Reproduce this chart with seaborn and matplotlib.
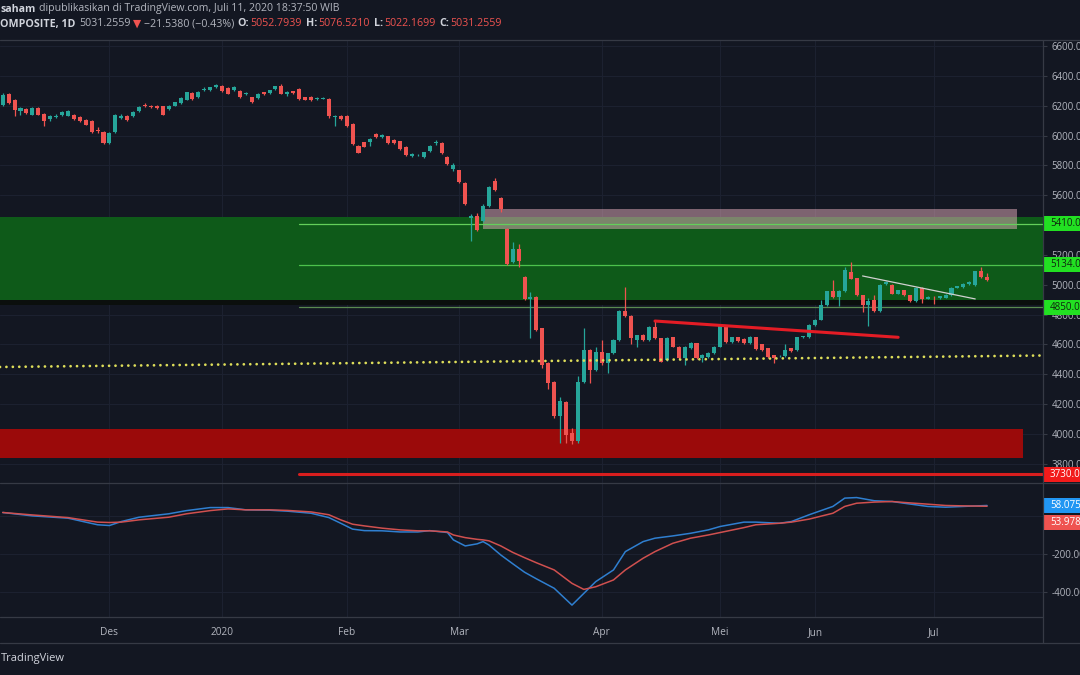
import numpy as np
import pandas as pd
import seaborn as sns
import matplotlib.pyplot as plt
import matplotlib.transforms as mtransforms
from matplotlib.lines import Line2D
from matplotlib.patches import Rectangle
from matplotlib.ticker import FuncFormatter

# ---- data (daily candles, index 0 = first visible bar) ----
opens = [6207, 6278, 6240, 6162, 6180, 6140, 6184, 6144, 6111, 6125,
         6140, 6134, 6140, 6124, 6107, 6100, 6040, 6022, 5947, 6024,
         6116, 6129, 6129, 6162, 6204, 6198, 6196, 6196, 6178, 6200,
         6218, 6240, 6284, 6256, 6302, 6302, 6324, 6333, 6318, 6302,
         6300, 6278, 6256, 6251, 6291, 6284, 6311, 6329, 6278, 6296,
         6313, 6256, 6256, 6245, 6248, 6244, 6125, 6131, 6133, 6080,
         5929, 5955, 5955, 6011, 5989, 5996, 5973, 5962, 5924, 5866,
         5867, 5858, 5896, 5951, 5947, 5855, 5778, 5767, 5684, 5445,
         5462, 5429, 5529, 5696, 5584, 5373, 5151, 5240, 5051, 4907,
         4918, 4707, 4473, 4347, 4118, 4213, 4007, 3951, 4351, 4562,
         4429, 4551, 4473, 4540, 4629, 4822, 4791, 4629, 4662, 4629,
         4718, 4640, 4495, 4647, 4584, 4507, 4578, 4607, 4507, 4515,
         4540, 4584, 4729, 4618, 4647, 4636, 4607, 4647, 4602, 4573,
         4529, 4520, 4524, 4573, 4562, 4647, 4651, 4729, 4767, 4862,
         4956, 4918, 4956, 5084, 5044, 4929, 4862, 4896, 4824, 5005,
         5000, 4940, 4962, 4929, 4889, 4978, 4907, 4918, 4911, 4913,
         4929, 4978, 4984, 5005, 4996, 5091, 5052.79]
highs = [6282, 6285, 6245, 6192, 6186, 6190, 6190, 6150, 6140, 6142,
         6162, 6168, 6145, 6128, 6112, 6105, 6055, 6030, 6022, 6145,
         6145, 6135, 6165, 6195, 6215, 6205, 6203, 6200, 6205, 6226,
         6255, 6295, 6290, 6298, 6325, 6328, 6345, 6340, 6322, 6330,
         6305, 6290, 6260, 6285, 6295, 6306, 6333, 6345, 6296, 6300,
         6318, 6260, 6262, 6256, 6258, 6250, 6140, 6140, 6140, 6085,
         5935, 5960, 5985, 6015, 6008, 6000, 5980, 5966, 5930, 5880,
         5875, 5892, 5936, 5970, 5955, 5860, 5818, 5772, 5690, 5473,
         5480, 5540, 5665, 5718, 5590, 5380, 5285, 5273, 5060, 4951,
         4925, 4712, 4480, 4352, 4251, 4220, 4040, 4390, 4710, 4570,
         4585, 4630, 4545, 4635, 4830, 4984, 4796, 4665, 4668, 4722,
         4767, 4645, 4648, 4650, 4590, 4590, 4615, 4612, 4533, 4548,
         4588, 4733, 4733, 4650, 4652, 4640, 4655, 4650, 4606, 4577,
         4532, 4530, 4600, 4578, 4651, 4660, 4735, 4772, 4896, 4960,
         5029, 4962, 5120, 5151, 5048, 4933, 4909, 4929, 5004, 5022,
         5005, 4966, 4966, 4933, 4982, 4982, 4922, 4922, 4928, 4937,
         4982, 4995, 5011, 5022, 5095, 5118, 5076.52]
lows = [6200, 6210, 6129, 6140, 6145, 6135, 6135, 6062, 6100, 6115,
        6130, 6128, 6105, 6090, 6068, 6018, 6020, 5945, 5940, 6018,
        6110, 6098, 6125, 6158, 6190, 6185, 6180, 6135, 6170, 6195,
        6213, 6235, 6240, 6250, 6296, 6298, 6320, 6290, 6275, 6298,
        6252, 6270, 6215, 6245, 6272, 6280, 6305, 6275, 6265, 6278,
        6240, 6235, 6230, 6240, 6244, 6120, 6062, 6105, 6058, 5935,
        5880, 5920, 5933, 5985, 5985, 5945, 5940, 5900, 5860, 5855,
        5860, 5852, 5890, 5935, 5875, 5800, 5762, 5685, 5535, 5296,
        5360, 5420, 5520, 5630, 5490, 5135, 5145, 5118, 4900, 4640,
        4690, 4440, 4300, 4110, 3940, 3940, 3935, 3940, 4340, 4340,
        4420, 4465, 4407, 4535, 4625, 4785, 4600, 4580, 4620, 4625,
        4635, 4480, 4490, 4580, 4500, 4460, 4570, 4500, 4480, 4510,
        4535, 4580, 4612, 4610, 4615, 4600, 4600, 4560, 4555, 4512,
        4473, 4515, 4518, 4550, 4555, 4640, 4645, 4725, 4762, 4855,
        4912, 4860, 4950, 5036, 4925, 4818, 4724, 4820, 4820, 5000,
        4935, 4936, 4925, 4885, 4885, 4880, 4903, 4870, 4907, 4910,
        4925, 4975, 4980, 5000, 4992, 5045, 5022.17]
closes = [6273, 6218, 6169, 6184, 6151, 6184, 6140, 6096, 6133, 6134,
          6156, 6162, 6111, 6096, 6073, 6024, 6030, 5951, 6018, 6140,
          6133, 6107, 6158, 6191, 6196, 6190, 6187, 6140, 6200, 6222,
          6251, 6291, 6245, 6291, 6311, 6322, 6338, 6296, 6280, 6324,
          6258, 6284, 6222, 6280, 6278, 6302, 6329, 6280, 6291, 6284,
          6244, 6240, 6236, 6252, 6254, 6129, 6133, 6113, 6062, 5940,
          5884, 5924, 5980, 5989, 6004, 5951, 5951, 5907, 5869, 5873,
          5869, 5889, 5933, 5953, 5880, 5806, 5800, 5689, 5540, 5462,
          5369, 5529, 5658, 5636, 5507, 5140, 5240, 5162, 4907, 4918,
          4696, 4462, 4340, 4118, 4218, 3996, 3951, 4351, 4562, 4429,
          4551, 4473, 4540, 4629, 4822, 4791, 4640, 4662, 4629, 4718,
          4640, 4484, 4644, 4584, 4507, 4584, 4611, 4507, 4529, 4544,
          4584, 4729, 4618, 4647, 4622, 4607, 4651, 4569, 4562, 4518,
          4507, 4525, 4562, 4555, 4647, 4655, 4729, 4767, 4862, 4956,
          4918, 4958, 5096, 5040, 4929, 4862, 4891, 4824, 5000, 5018,
          4940, 4962, 4929, 4889, 4978, 4907, 4918, 4916, 4924, 4933,
          4978, 4991, 5007, 5018, 5091, 5053, 5031.26]

# lower pane oscillator (two lines), sampled at bar indices
ind_idx = [0, 5, 11, 16, 18, 20, 23, 28, 31, 35, 38, 41, 45, 48, 52, 55, 57, 59, 61, 64,
           67, 70, 72, 75, 76, 78, 80, 81, 82, 84, 86, 88, 90, 93, 96, 98, 100, 103, 105, 108,
           110, 113, 116, 119, 121, 125, 127, 131, 133, 136, 140, 142, 144, 147, 150, 152, 156, 159, 162, 166]
ind_blue = [21, 3, -9, -44, -48, -27, -4, 14, 31, 47, 47, 35, 33, 28, 17, -6, -36, -67, -75, -76,
            -82, -82, -75, -85, -124, -156, -145, -133, -151, -204, -250, -295, -330, -380, -469, -407, -345, -283, -186, -133,
            -115, -103, -89, -71, -53, -30, -30, -36, -27, 9, 53, 97, 100, 83, 79, 70, 53, 49, 53, 58]
ind_red = [21, 8, -6, -30, -32, -30, -18, -4, 14, 31, 40, 35, 35, 32, 24, 9, -18, -41, -50, -62,
           -71, -76, -76, -82, -98, -112, -121, -124, -129, -156, -190, -218, -245, -283, -354, -386, -372, -336, -283, -221,
           -186, -142, -115, -98, -85, -59, -44, -36, -30, -14, 17, 53, 70, 76, 79, 74, 65, 58, 56, 54]

month_pos = [18, 37, 58, 77, 101, 121, 137, 157]
month_labels = ["Des", "2020", "Feb", "Mar", "Apr", "Mei", "Jun", "Jul"]

# drawings on the chart
level_values = [5410, 5134, 4850]
level_labels = ["5410.00", "5134.00", "4850.00"]
support_value = 3730
green_zone = [4895, 5456]
red_zone = [3837, 4031]
pink_zone = [5374, 5508]
pink_span = [81, 171]
red_trend = [4757, 4648]
red_trend_span = [110, 151]
white_trend = [5059, 4905]
white_trend_span = [145, 164]
dotted_trend = [4449, 4526]

# ---- style ----
BG = "#131722"
UP = "#26a69a"
DOWN = "#ef5350"
TXT = "#b2b5be"
LIGHT = "#d1d4dc"
GRID = "#1c2130"
SEP = "#363a45"

sns.set_theme(style="dark", rc={"axes.facecolor": BG, "figure.facecolor": BG})
plt.rcParams["font.family"] = ["Open Sans", "DejaVu Sans"]

W, H = 1080, 675
fig = plt.figure(figsize=(10.8, 6.75), dpi=100)

def fy(py):
    return 1 - py / H

ax = fig.add_axes([0, fy(483), 1043 / W, (483 - 40) / H])
ax2 = fig.add_axes([0, fy(617), 1043 / W, (617 - 483) / H], sharex=ax)

xl, xr = -0.455, 175.43

# zones under the candles
ax.axhspan(green_zone[0], green_zone[1], color="#0e5a19", lw=0, zorder=1)
ax.axhspan(4862, green_zone[0], color="#0b0f0d", lw=0, zorder=1)
ax.axhspan(red_zone[0], red_zone[1], xmin=0, xmax=(172 - xl) / (xr - xl), color="#9b0a0a", lw=0, zorder=1)
ax.add_patch(Rectangle((pink_span[0], pink_zone[0]), pink_span[1] - pink_span[0], pink_zone[1] - pink_zone[0],
                       fc="#e8b0be", alpha=0.5, lw=0, zorder=1.2))
for v, c in zip(level_values, ["#63d05a", "#4cc24c", "#5a8a50"]):
    ax.plot([50, xr], [v, v], color=c, lw=0.9, zorder=1.5)
ax.plot([50, xr], [support_value, support_value], color="#d91e1e", lw=2.2, zorder=1.5)

# candles
df = pd.DataFrame({"o": opens, "h": highs, "l": lows, "c": closes})
df["i"] = np.arange(len(df))
col = np.where(df.c >= df.o, UP, DOWN)
ax.vlines(df.i, df.l, df.h, colors=col, lw=0.9, zorder=3)
ax.bar(df.i, (df.c - df.o).abs().clip(lower=5), bottom=np.minimum(df.o, df.c),
       width=0.68, color=col, lw=0, zorder=4)

# trend lines on top
ax.plot([xl, xr], dotted_trend, color="#dede5a", lw=2.0, ls=(0, (0.01, 2.3)),
        dash_capstyle="round", zorder=5)
ax.plot(red_trend_span, red_trend, color="#e31c25", lw=2.2, zorder=5)
ax.plot(white_trend_span, white_trend, color="#d0d0d0", lw=0.9, zorder=5)

# oscillator
ind = pd.DataFrame({"i": ind_idx, "blue": ind_blue, "red": ind_red})
sns.lineplot(data=ind, x="i", y="blue", ax=ax2, color="#2f7fd0", lw=1.1)
sns.lineplot(data=ind, x="i", y="red", ax=ax2, color="#d0504f", lw=1.1)

# axes cosmetics (labels fully hidden under the value badges are left blank)
hidden = {5400, 0}
fmt = FuncFormatter(lambda v, p: "" if round(v) in hidden else f"{v:.2f}")
ax.set_ylim(3671.6, 6640.2)
ax2.set_ylim(-532, 177)
ax.set_yticks(range(3800, 6601, 200))
ax2.set_yticks([-400, -200, 0])
for a in (ax, ax2):
    a.set_xlim(xl, xr)
    a.set_xlabel("")
    a.set_ylabel("")
    for s in a.spines.values():
        s.set_visible(False)
    a.yaxis.tick_right()
    a.yaxis.set_major_formatter(fmt)
    a.tick_params(axis="y", colors=TXT, labelsize=7, length=3, width=0.8, pad=3, color=SEP)
    a.set_xticks(month_pos)
    a.grid(True, color=GRID, lw=0.8)
    a.set_axisbelow(True)
ax.tick_params(axis="x", length=0, labelbottom=False)
ax2.set_xticklabels(month_labels)
ax2.tick_params(axis="x", colors=TXT, labelsize=7.3, length=3, width=0.8, pad=4, color=SEP)


def badge(a, val, txt, fc, tc, shift_px=0):
    y0, y1 = a.get_ylim()
    upp = (y1 - y0) / a.bbox.height
    yc = val - shift_px * upp
    tr = mtransforms.blended_transform_factory(a.transAxes, a.transData)
    a.add_patch(Rectangle((1.0, yc - 7.5 * upp), 0.06, 15 * upp, transform=tr, fc=fc, ec="none",
                          clip_on=False, zorder=10))
    a.text(1.0 + 7 / a.bbox.width, yc, txt, transform=tr, fontsize=7, color=tc, va="center",
           ha="left", clip_on=False, zorder=11)


for v, t in zip(level_values, level_labels):
    badge(ax, v, t, "#22e022", "#10240f")
badge(ax, support_value, "3730.00", "#f21b1b", "white")
badge(ax2, ind_blue[-1], "58.075", "#2196f3", "white")
badge(ax2, ind_blue[-1], "53.978", "#ef5350", "white", shift_px=17)

# separators
for y, x1 in [(40, W), (483, W), (617, 1043), (643, W)]:
    fig.add_artist(Line2D([0, x1 / W], [fy(y), fy(y)], color=SEP, lw=0.9))
fig.add_artist(Line2D([1043 / W, 1043 / W], [fy(40), fy(643)], color=SEP, lw=0.9))

# header text
renderer = fig.canvas.get_renderer()


def write_line(parts, y_px, size):
    x = 0.5
    for txt, color, weight, gap in parts:
        t = fig.text(x / W, fy(y_px), txt, color=color, fontsize=size, fontweight=weight,
                     va="center", ha="left")
        x = t.get_window_extent(renderer=renderer).x1 + gap


write_line([("saham", LIGHT, "bold", 3),
            ("dipublikasikan di TradingView.com, Juli 11, 2020 18:37:50 WIB", TXT, "normal", 0)], 9, 7.6)
write_line([("OMPOSITE, 1D", LIGHT, "bold", 3),
            ("5031.2559", TXT, "normal", 3),
            ("▼", DOWN, "normal", 2),
            ("−21.5380 (−0.43%)", TXT, "normal", 4),
            ("O:", LIGHT, "bold", 1), ("5052.7939", DOWN, "normal", 4),
            ("H:", LIGHT, "bold", 1), ("5076.5210", DOWN, "normal", 4),
            ("L:", LIGHT, "bold", 1), ("5022.1699", DOWN, "normal", 4),
            ("C:", LIGHT, "bold", 1), ("5031.2559", DOWN, "normal", 0)], 24, 7.7)

fig.text(0.5 / W, fy(659), "TradingView", color=LIGHT, fontsize=8, va="center", ha="left")

fig.savefig("out.png", dpi=100, facecolor=BG)
